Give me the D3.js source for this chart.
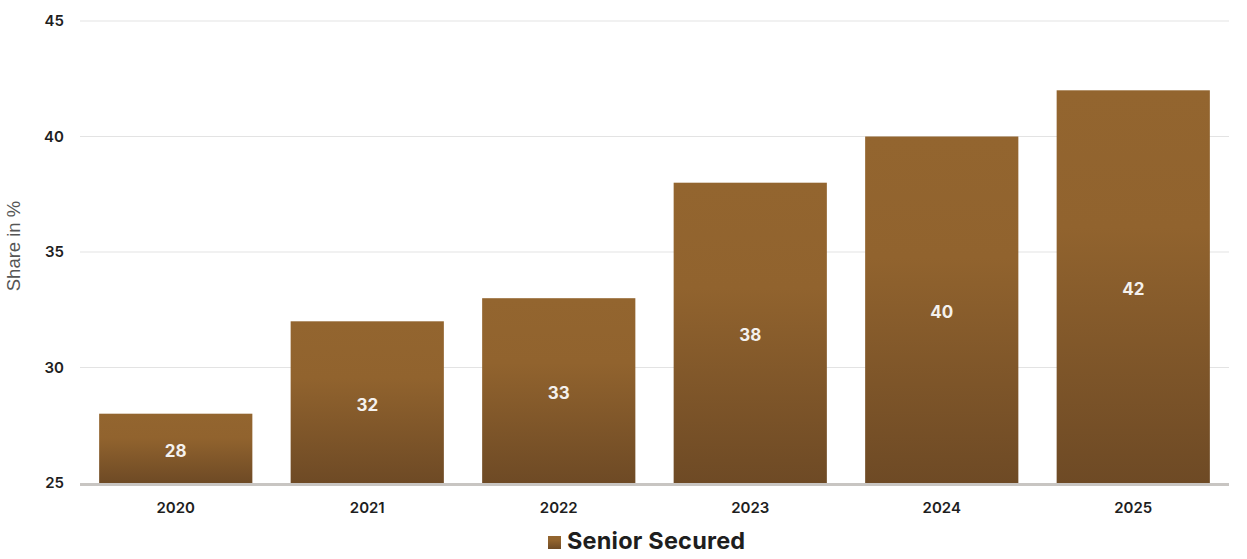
<!DOCTYPE html>
<html lang="en">
<head>
<meta charset="UTF-8">
<title>Senior Secured share</title>
<script src="https://d3js.org/d3.v7.min.js"></script>
<style>
  html, body { margin: 0; padding: 0; background: #fff; }
  body { font-family: 'Inter', sans-serif; }
</style>
</head>
<body>
<div id="chart"></div>
<script>
// --- Data ---
const years = ["2020", "2021", "2022", "2023", "2024", "2025"];
const seniorSecured = [28, 32, 33, 38, 40, 42];
const yTicks = [25, 30, 35, 40, 45];
const seriesName = "Senior Secured";

const width = 1247, height = 559;
const margin = { top: 21, right: 18, bottom: 76, left: 80 };

const svg = d3.select("#chart").append("svg")
    .attr("width", width)
    .attr("height", height);

const defs = svg.append("defs");
const grad = defs.append("linearGradient")
    .attr("id", "barGrad")
    .attr("x1", 0).attr("y1", 0).attr("x2", 0).attr("y2", 1);
grad.append("stop").attr("offset", "0%").attr("stop-color", "#93652f");
grad.append("stop").attr("offset", "35%").attr("stop-color", "#91632e");
grad.append("stop").attr("offset", "100%").attr("stop-color", "#6e4a25");

const x = d3.scaleBand()
    .domain(years)
    .range([margin.left, width - margin.right])
    .paddingInner(0.2)
    .paddingOuter(0.1);

const y = d3.scaleLinear()
    .domain([25, 45])
    .range([height - margin.bottom, margin.top]);

// grid lines
svg.append("g")
    .selectAll("line")
    .data(yTicks.slice(1))
    .join("line")
    .attr("x1", margin.left)
    .attr("x2", width - margin.right)
    .attr("y1", d => y(d))
    .attr("y2", d => y(d))
    .attr("stroke", "#e3e3e3")
    .attr("stroke-width", 1);

// y axis labels
const yAxis = svg.append("g")
    .attr("transform", `translate(${margin.left},0)`)
    .call(d3.axisLeft(y).tickValues(yTicks).tickSize(0).tickPadding(16));
yAxis.select(".domain").remove();
yAxis.selectAll("text")
    .attr("fill", "#1e1e1e")
    .style("font-family", "Inter, sans-serif")
    .style("font-size", "15px")
    .style("font-weight", "600");

// bars
const rows = years.map((yr, i) => ({ year: yr, value: seniorSecured[i] }));

svg.append("g")
    .selectAll("rect")
    .data(rows)
    .join("rect")
    .attr("x", d => x(d.year))
    .attr("width", x.bandwidth())
    .attr("y", d => y(d.value))
    .attr("height", d => y(25) - y(d.value))
    .attr("fill", "url(#barGrad)");

// value labels
svg.append("g")
    .selectAll("text")
    .data(rows)
    .join("text")
    .attr("x", d => x(d.year) + x.bandwidth() / 2)
    .attr("y", d => (y(d.value) + y(25)) / 2 + 4)
    .attr("text-anchor", "middle")
    .attr("dominant-baseline", "middle")
    .attr("fill", "#f4f1ee")
    .style("font-family", "Inter, sans-serif")
    .style("font-size", "17px")
    .style("font-weight", "700")
    .text(d => d.value);

// baseline
svg.append("line")
    .attr("x1", margin.left)
    .attr("x2", width - margin.right)
    .attr("y1", y(25) + 1.5)
    .attr("y2", y(25) + 1.5)
    .attr("stroke", "#c8c5c2")
    .attr("stroke-width", 3);

// x axis labels
const xAxis = svg.append("g")
    .attr("transform", `translate(0,${y(25)})`)
    .call(d3.axisBottom(x).tickSize(0).tickPadding(19));
xAxis.select(".domain").remove();
xAxis.selectAll("text")
    .attr("fill", "#1e1e1e")
    .style("font-family", "Inter, sans-serif")
    .style("font-size", "15px")
    .style("font-weight", "600");

// y axis title
svg.append("text")
    .attr("transform", `translate(20,246) rotate(-90)`)
    .attr("text-anchor", "middle")
    .attr("fill", "#555")
    .style("font-family", "'Liberation Sans', Arial, sans-serif")
    .style("font-size", "18.5px")
    .text("Share in %");

// legend
const legend = svg.append("g").attr("transform", "translate(548,536)");
legend.append("rect")
    .attr("width", 13).attr("height", 13)
    .attr("fill", "url(#barGrad)");
legend.append("text")
    .attr("x", 19)
    .attr("y", 7)
    .attr("dominant-baseline", "middle")
    .attr("fill", "#1e1e1e")
    .style("font-family", "Inter, sans-serif")
    .style("font-size", "23.5px")
    .style("font-weight", "700")
    .style("letter-spacing", "0.2px")
    .text(seriesName);
</script>
</body>
</html>
